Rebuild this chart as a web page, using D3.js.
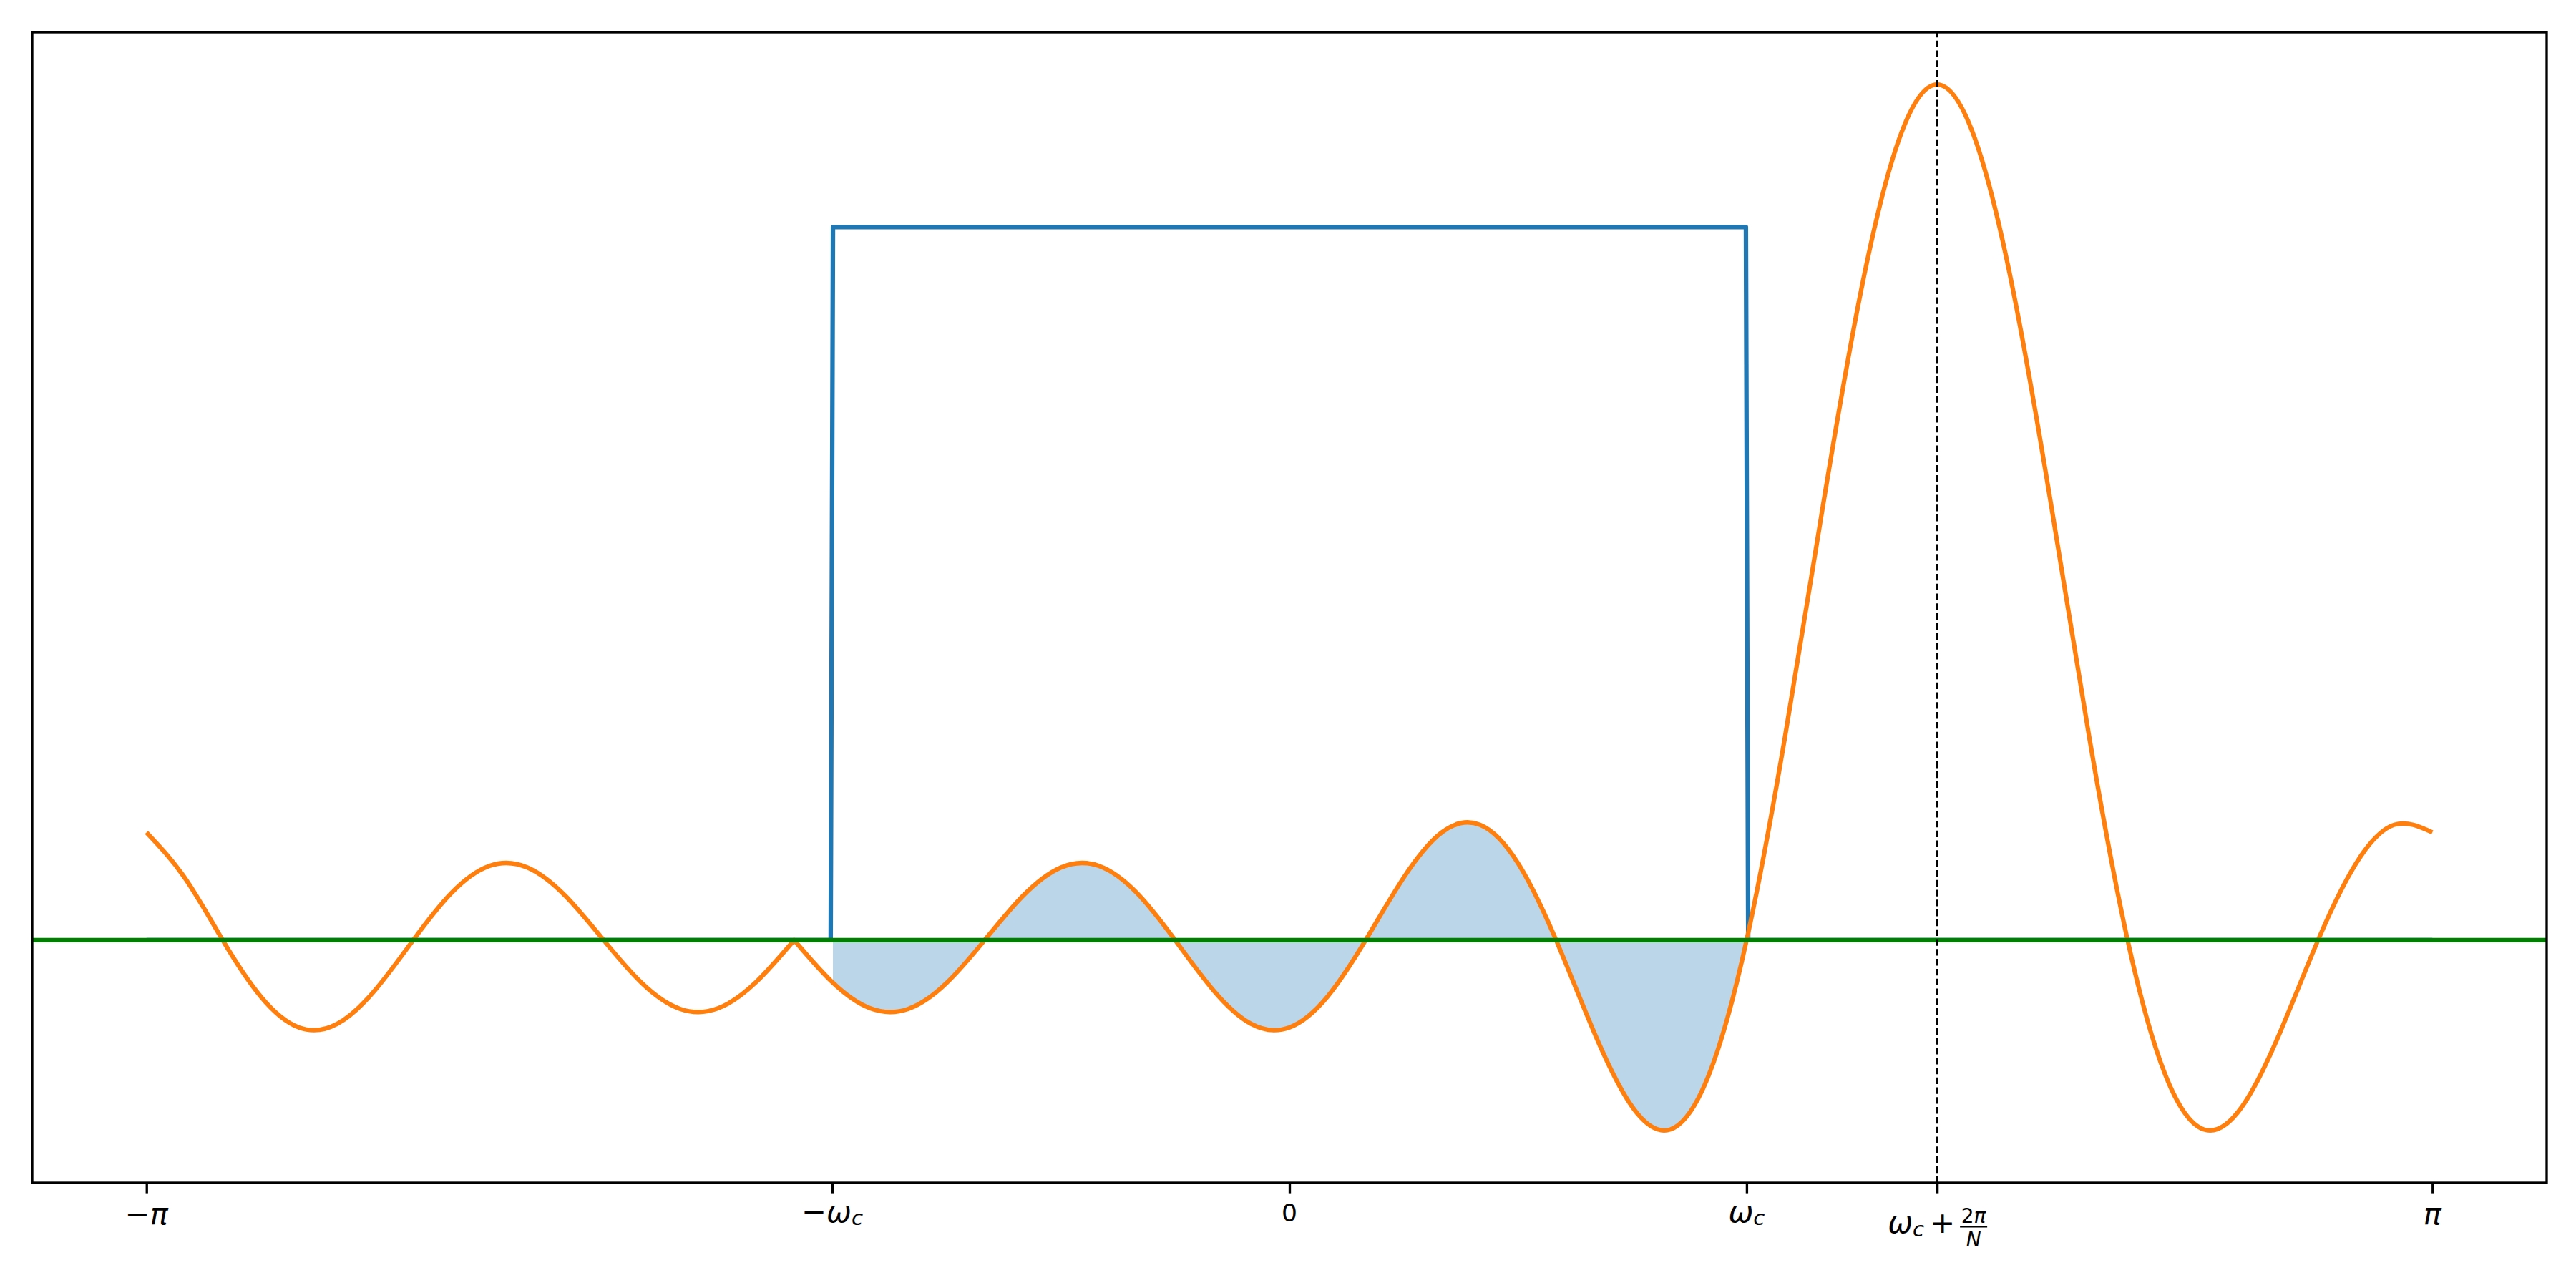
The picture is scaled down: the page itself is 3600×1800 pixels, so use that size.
<!DOCTYPE html>
<html><head><meta charset="utf-8">
<script src="https://cdn.jsdelivr.net/npm/d3@7"></script>
<style>body{margin:0;background:#fff}svg{display:block}</style>
</head><body><svg id="chart" width="3600" height="1800"></svg>
<script>
const PI = Math.PI;
const omegaC = 0.4 * PI;
const shift = 2 * PI / 12;

// orange curve, left of the wrap point (omega, value)
const omegaLeft = [-3.14159,-3.03687,-2.93215,-2.82743,-2.72271,-2.61799,-2.51327,-2.40855,-2.30383,-2.19911,-2.09440,-1.98968,-1.88496,-1.78024,-1.67552,-1.57080,-1.46608,-1.36136];
const valueLeft = [1.5112,0.8784,0,-0.7909,-1.2238,-1.1756,-0.7008,0,0.6597,1.0411,1.0187,0.6180,0,-0.6009,-0.9629,-0.9563,-0.5886,0];
// orange curve, right of the wrap point
const omegaRight = [-1.36136,-1.25664,-1.15192,-1.04720,-0.94248,-0.83776,-0.73304,-0.62832,-0.52360,-0.41888,-0.31416,-0.20944,-0.10472,0,0.10472,0.20944,0.31416,0.41888,0.52360,0.62832,0.73304,0.83776,0.94248,1.04720,1.15192,1.25664,1.36136,1.46608,1.57080,1.67552,1.78024,1.88496,1.98968,2.09440,2.19911,2.30383,2.40855,2.51327,2.61799,2.72271,2.82743,2.93215,3.03687,3.14159];
const valueRight = [0,-0.5886,-0.9563,-0.9629,-0.6009,0,0.6180,1.0187,1.0411,0.6597,0,-0.7008,-1.1756,-1.2238,-0.7909,0,0.8784,1.5112,1.6180,1.0792,0,-1.2947,-2.3383,-2.6539,-1.9021,0,2.8271,6.0796,9.0986,11.2310,12,11.2310,9.0986,6.0796,2.8271,0,-1.9021,-2.6539,-2.3383,-1.2947,0,1.0792,1.6180,1.5112];
// ideal low-pass (blue)
const idealOmega = [-3.14159,-1.2610,-1.2547,1.2547,1.2610,3.14159];
const idealValue = [0,0,10,10,0,0];
// fill range
const fillRange = [-1.2547, 1.2547];
// axis
const xLimits = [-3.45575, 3.45575];
const yLimits = [-3.403, 12.733];
const tickValues = [-PI, -omegaC, 0, omegaC, omegaC + shift, PI];
const tickLabels = ["−π", "−ω_c", "0", "ω_c", "ω_c+2π/N", "π"];

const L = 45, R = 3559, T = 45, B = 1653;
const svg = d3.select("#chart");
const x = d3.scaleLinear().domain(xLimits).range([L, R]);
const y = d3.scaleLinear().domain(yLimits).range([B, T]);

svg.append("defs").append("clipPath").attr("id","ax")
  .append("rect").attr("x",L).attr("y",T).attr("width",R-L).attr("height",B-T);
svg.select("defs").append("clipPath").attr("id","fillclip")
  .append("rect").attr("x",x(fillRange[0])).attr("y",T)
  .attr("width",x(fillRange[1])-x(fillRange[0])).attr("height",B-T);

const right = omegaRight.map((w,i)=>[w,valueRight[i]]);
const left = omegaLeft.map((w,i)=>[w,valueLeft[i]]);
const ideal = idealOmega.map((w,i)=>[w,idealValue[i]]);

const plot = svg.append("g").attr("clip-path","url(#ax)");

// fill
const area = d3.area().curve(d3.curveNatural)
  .x(d=>x(d[0])).y0(y(0)).y1(d=>y(d[1]));
plot.append("g").attr("clip-path","url(#fillclip)")
  .append("path").attr("d", area(right))
  .attr("fill","#1f77b4").attr("fill-opacity",0.3).attr("stroke","none");

// blue ideal
const lin = d3.line().x(d=>x(d[0])).y(d=>y(d[1]));
plot.append("path").attr("d", lin(ideal)).attr("fill","none")
  .attr("stroke","#1f77b4").attr("stroke-width",6.25)
  .attr("stroke-linejoin","round").attr("stroke-linecap","butt");

// orange
const smooth = d3.line().curve(d3.curveNatural).x(d=>x(d[0])).y(d=>y(d[1]));
const dOrange = smooth(left) + smooth(right).replace(/^M/,"L");
plot.append("path").attr("d", dOrange).attr("fill","none")
  .attr("stroke","#ff7f0e").attr("stroke-width",6.25)
  .attr("stroke-linejoin","round").attr("stroke-linecap","butt");

// green zero line
plot.append("line").attr("x1",L).attr("x2",R).attr("y1",y(0)).attr("y2",y(0))
  .attr("stroke","#008000").attr("stroke-width",6.25);

// dashed vertical
plot.append("line").attr("x1",x(omegaC+shift)).attr("x2",x(omegaC+shift))
  .attr("y1",B).attr("y2",T)
  .attr("stroke","#000").attr("stroke-width",2.2).attr("stroke-dasharray","9.3 4.5");

// axis ticks
const axis = d3.axisBottom(x).tickValues(tickValues).tickSize(14.6).tickFormat("");
const ag = svg.append("g").attr("transform",`translate(0,${B})`).call(axis);
ag.select(".domain").remove();
ag.selectAll(".tick line").attr("stroke","#000").attr("stroke-width",3.33);

// frame
svg.append("rect").attr("x",L).attr("y",T).attr("width",R-L).attr("height",B-T)
  .attr("fill","none").attr("stroke","#000").attr("stroke-width",3.33);

// tick labels (mathtext style)
const F = 41.7, FS = 29.2, FF = 28;
const lab = svg.append("g").attr("font-family","DejaVu Sans").attr("fill","#000");
function addParts(t, parts){
  parts.forEach(p=>{
    const s = t.append("tspan").text(p.t);
    if (p.i) s.attr("font-style","italic");
    if (p.s) s.attr("font-size",p.s);
    if (p.dy) s.attr("dy",p.dy);
  });
}
tickLabels.forEach((lbl,i)=>{
  const tx = x(tickValues[i]);
  if (lbl === "0") {
    lab.append("text").attr("x",tx).attr("y",1707).attr("text-anchor","middle")
      .attr("font-size",34.5).text("0");
  } else if (lbl === "−π" || lbl === "π") {
    const t = lab.append("text").attr("x",tx).attr("y",1711).attr("text-anchor","middle").attr("font-size",F);
    const parts = [];
    if (lbl[0] === "−") parts.push({t:"−"});
    parts.push({t:"π", i:true});
    addParts(t, parts);
  } else if (lbl === "−ω_c" || lbl === "ω_c") {
    const t = lab.append("text").attr("x",tx).attr("y",1708).attr("text-anchor","middle").attr("font-size",F);
    const parts = [];
    if (lbl[0] === "−") parts.push({t:"−"});
    parts.push({t:"ω", i:true});
    parts.push({t:"c", i:true, s:FS, dy:4});
    addParts(t, parts);
  } else {
    const base = 1722.5;
    const t1 = lab.append("text").attr("x",tx-18).attr("y",base).attr("text-anchor","end").attr("font-size",F);
    addParts(t1, [{t:"ω", i:true},{t:"c", i:true, s:FS, dy:5}]);
    lab.append("text").attr("x",tx+7.5).attr("y",base).attr("text-anchor","middle").attr("font-size",F).text("+");
    const fx = tx + 51;
    lab.append("line").attr("x1",tx+32).attr("x2",tx+70).attr("y1",1714.5).attr("y2",1714.5)
      .attr("stroke","#000").attr("stroke-width",2.2);
    const num = lab.append("text").attr("x",fx).attr("y",1708.5).attr("text-anchor","middle").attr("font-size",FF);
    addParts(num, [{t:"2"},{t:"π", i:true}]);
    lab.append("text").attr("x",fx).attr("y",1741.5).attr("text-anchor","middle").attr("font-size",FF)
      .attr("font-style","italic").text("N");
  }
});
</script></body></html>
